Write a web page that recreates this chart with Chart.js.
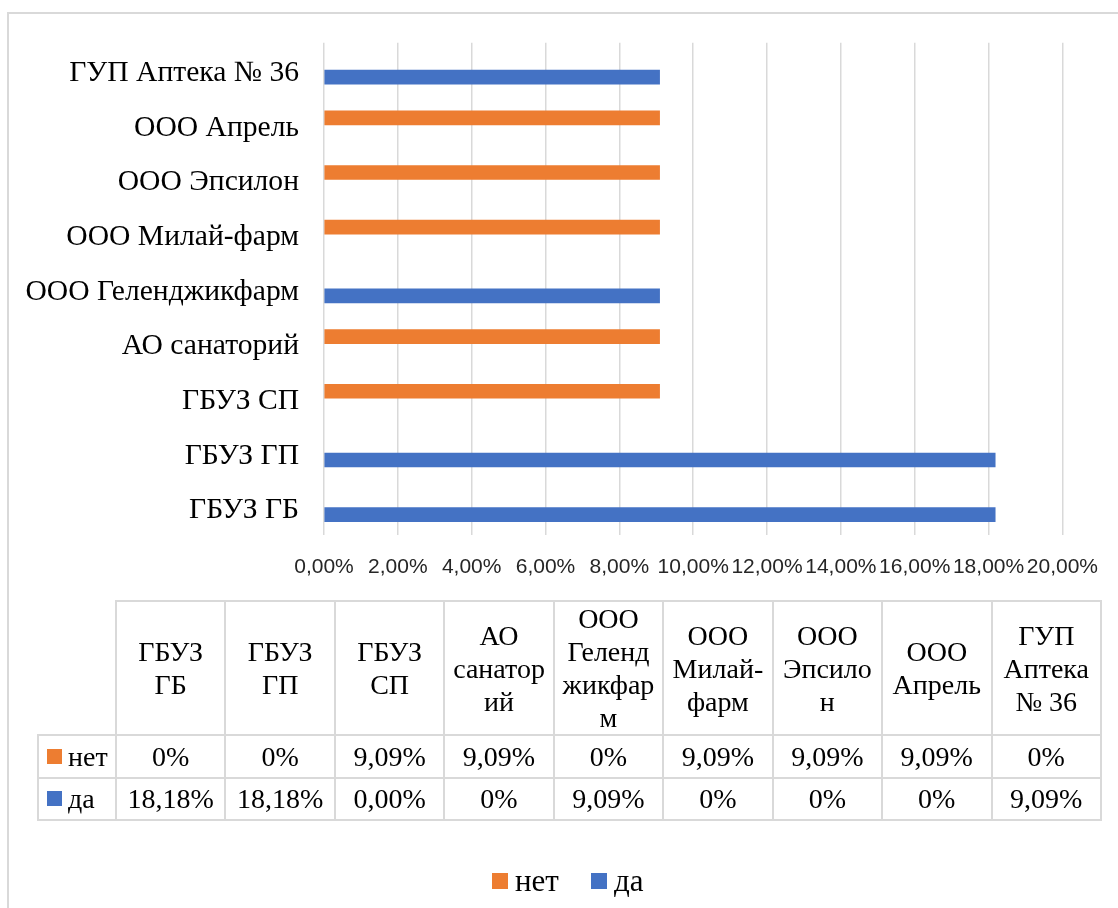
<!DOCTYPE html>
<html lang="ru">
<head>
<meta charset="utf-8">
<title>Аптеки</title>
<script src="https://cdn.jsdelivr.net/npm/chart.js@4.4.1/dist/chart.umd.min.js"></script>
<style>
    html, body { margin: 0; padding: 0; background: #fff; }
    .frame { position: relative; width: 1118px; height: 908px; overflow: hidden; }
    .frame-border {
        position: absolute; left: 7px; top: 12px; width: 1300px; height: 1100px;
        border: 2px solid #d9d9d9; box-sizing: border-box;
    }
    #barChart { position: absolute; left: 0; top: 0; }
    .data-table {
        position: absolute; left: 37px; top: 600px; width: 1065px;
        border-collapse: collapse; table-layout: fixed;
        font-family: 'Liberation Serif', 'Times New Roman', serif; font-size: 28px; color: #000;
    }
    .data-table th, .data-table td { border: 2px solid #d9d9d9; padding: 0; }
    .data-table th {
        font-weight: normal; line-height: 33px; padding: 0 5px;
        vertical-align: middle; text-align: center; overflow-wrap: anywhere;
    }
    .data-table th.corner { border-top: none; border-left: none; }
    .data-table td { text-align: center; vertical-align: middle; line-height: 1; white-space: nowrap; }
    .data-table td.series { text-align: left; padding-left: 8px; }
    .swatch { display: inline-block; width: 15px; height: 15px; margin-right: 6px; vertical-align: 2px; }
    .legend {
        position: absolute; left: 492px; top: 862px; height: 38px;
        display: flex; align-items: center;
        font-family: 'Liberation Serif', 'Times New Roman', serif; font-size: 31px; color: #000;
    }
    .legend-item { display: flex; align-items: center; margin-right: 32px; }
    .legend-box { width: 16px; height: 16px; margin-right: 7px; }
</style>
</head>
<body>
<div class="frame">
    <div class="frame-border"></div>
    <canvas id="barChart" width="1118" height="908"></canvas>
    <table class="data-table"></table>
    <div class="legend"></div>
</div>
<script>
// categories in the order of the data table (bottom to top on the chart)
const categories = ['ГБУЗ ГБ', 'ГБУЗ ГП', 'ГБУЗ СП', 'АО санаторий', 'ООО Геленджикфарм',
    'ООО Милай-фарм', 'ООО Эпсилон', 'ООО Апрель', 'ГУП Аптека № 36'];
const seriesNames = ['нет', 'да'];
const seriesColors = ['#ED7D31', '#4472C4'];

// values in percent
const netValues = [0, 0, 9.09, 9.09, 0, 9.09, 9.09, 9.09, 0];
const daValues = [18.18, 18.18, 0, 0, 9.09, 0, 0, 0, 9.09];

// the texts printed in the data table
const netLabels = ['0%', '0%', '9,09%', '9,09%', '0%', '9,09%', '9,09%', '9,09%', '0%'];
const daLabels = ['18,18%', '18,18%', '0,00%', '0%', '9,09%', '0%', '0%', '0%', '9,09%'];

const axisMax = 20;
const axisStep = 2;

Chart.defaults.font.family = "'Liberation Serif', 'Times New Roman', serif";

// Function to build the data table under the chart
function buildDataTable() {
    const table = document.querySelector('.data-table');
    let html = '<colgroup><col style="width:78px">';
    categories.forEach(() => { html += '<col>'; });
    html += '</colgroup>';

    html += '<tr><th class="corner"></th>';
    categories.forEach(name => { html += `<th>${name}</th>`; });
    html += '</tr>';

    const rows = [netLabels, daLabels];
    const heights = [43, 42];
    rows.forEach((labels, r) => {
        html += `<tr style="height:${heights[r]}px"><td class="series">` +
            `<span class="swatch" style="background:${seriesColors[r]}"></span>${seriesNames[r]}</td>`;
        labels.forEach(text => { html += `<td>${text}</td>`; });
        html += '</tr>';
    });

    table.innerHTML = html;
}

// Function to build the legend at the bottom
function buildLegend() {
    const legend = document.querySelector('.legend');
    seriesNames.forEach((name, i) => {
        const item = document.createElement('div');
        item.classList.add('legend-item');
        item.innerHTML = `<div class="legend-box" style="background:${seriesColors[i]}"></div>${name}`;
        legend.appendChild(item);
    });
}

// zero values get no visible sliver
function barColor(color) {
    return context => (context.raw === 0 ? 'rgba(0,0,0,0)' : color);
}

// Function to create the horizontal bar chart
function createBarChart() {
    const chartData = {
        labels: categories.slice().reverse(),
        datasets: [{
            label: seriesNames[0],
            data: netValues.slice().reverse(),
            backgroundColor: barColor(seriesColors[0]),
            barThickness: 14
        }, {
            label: seriesNames[1],
            data: daValues.slice().reverse(),
            backgroundColor: barColor(seriesColors[1]),
            barThickness: 14
        }]
    };

    const chartConfig = {
        type: 'bar',
        data: chartData,
        options: {
            indexAxis: 'y',
            responsive: false,
            animation: false,
            layout: {
                padding: { top: 42, right: 54, bottom: 0, left: 0 }
            },
            plugins: {
                legend: { display: false },
                tooltip: { enabled: false }
            },
            scales: {
                x: {
                    min: 0,
                    max: axisMax,
                    afterFit: scale => { scale.height = 373; },
                    border: { display: false },
                    grid: { color: '#d9d9d9', lineWidth: 1.5, drawTicks: false },
                    ticks: {
                        stepSize: axisStep,
                        autoSkip: false,
                        maxRotation: 0,
                        minRotation: 0,
                        padding: 20,
                        color: '#262626',
                        font: { family: "'Liberation Sans', Arial, sans-serif", size: 21 },
                        callback: value => value.toFixed(2).replace('.', ',') + '%'
                    }
                },
                y: {
                    afterFit: scale => { scale.width = 324; },
                    border: { display: false },
                    grid: { display: false, drawTicks: false },
                    ticks: {
                        padding: 25,
                        labelOffset: 3,
                        color: '#000',
                        font: { size: 29.6 }
                    }
                }
            }
        }
    };

    const ctx = document.getElementById('barChart').getContext('2d');
    new Chart(ctx, chartConfig);
}

buildDataTable();
buildLegend();
createBarChart();
</script>
</body>
</html>
